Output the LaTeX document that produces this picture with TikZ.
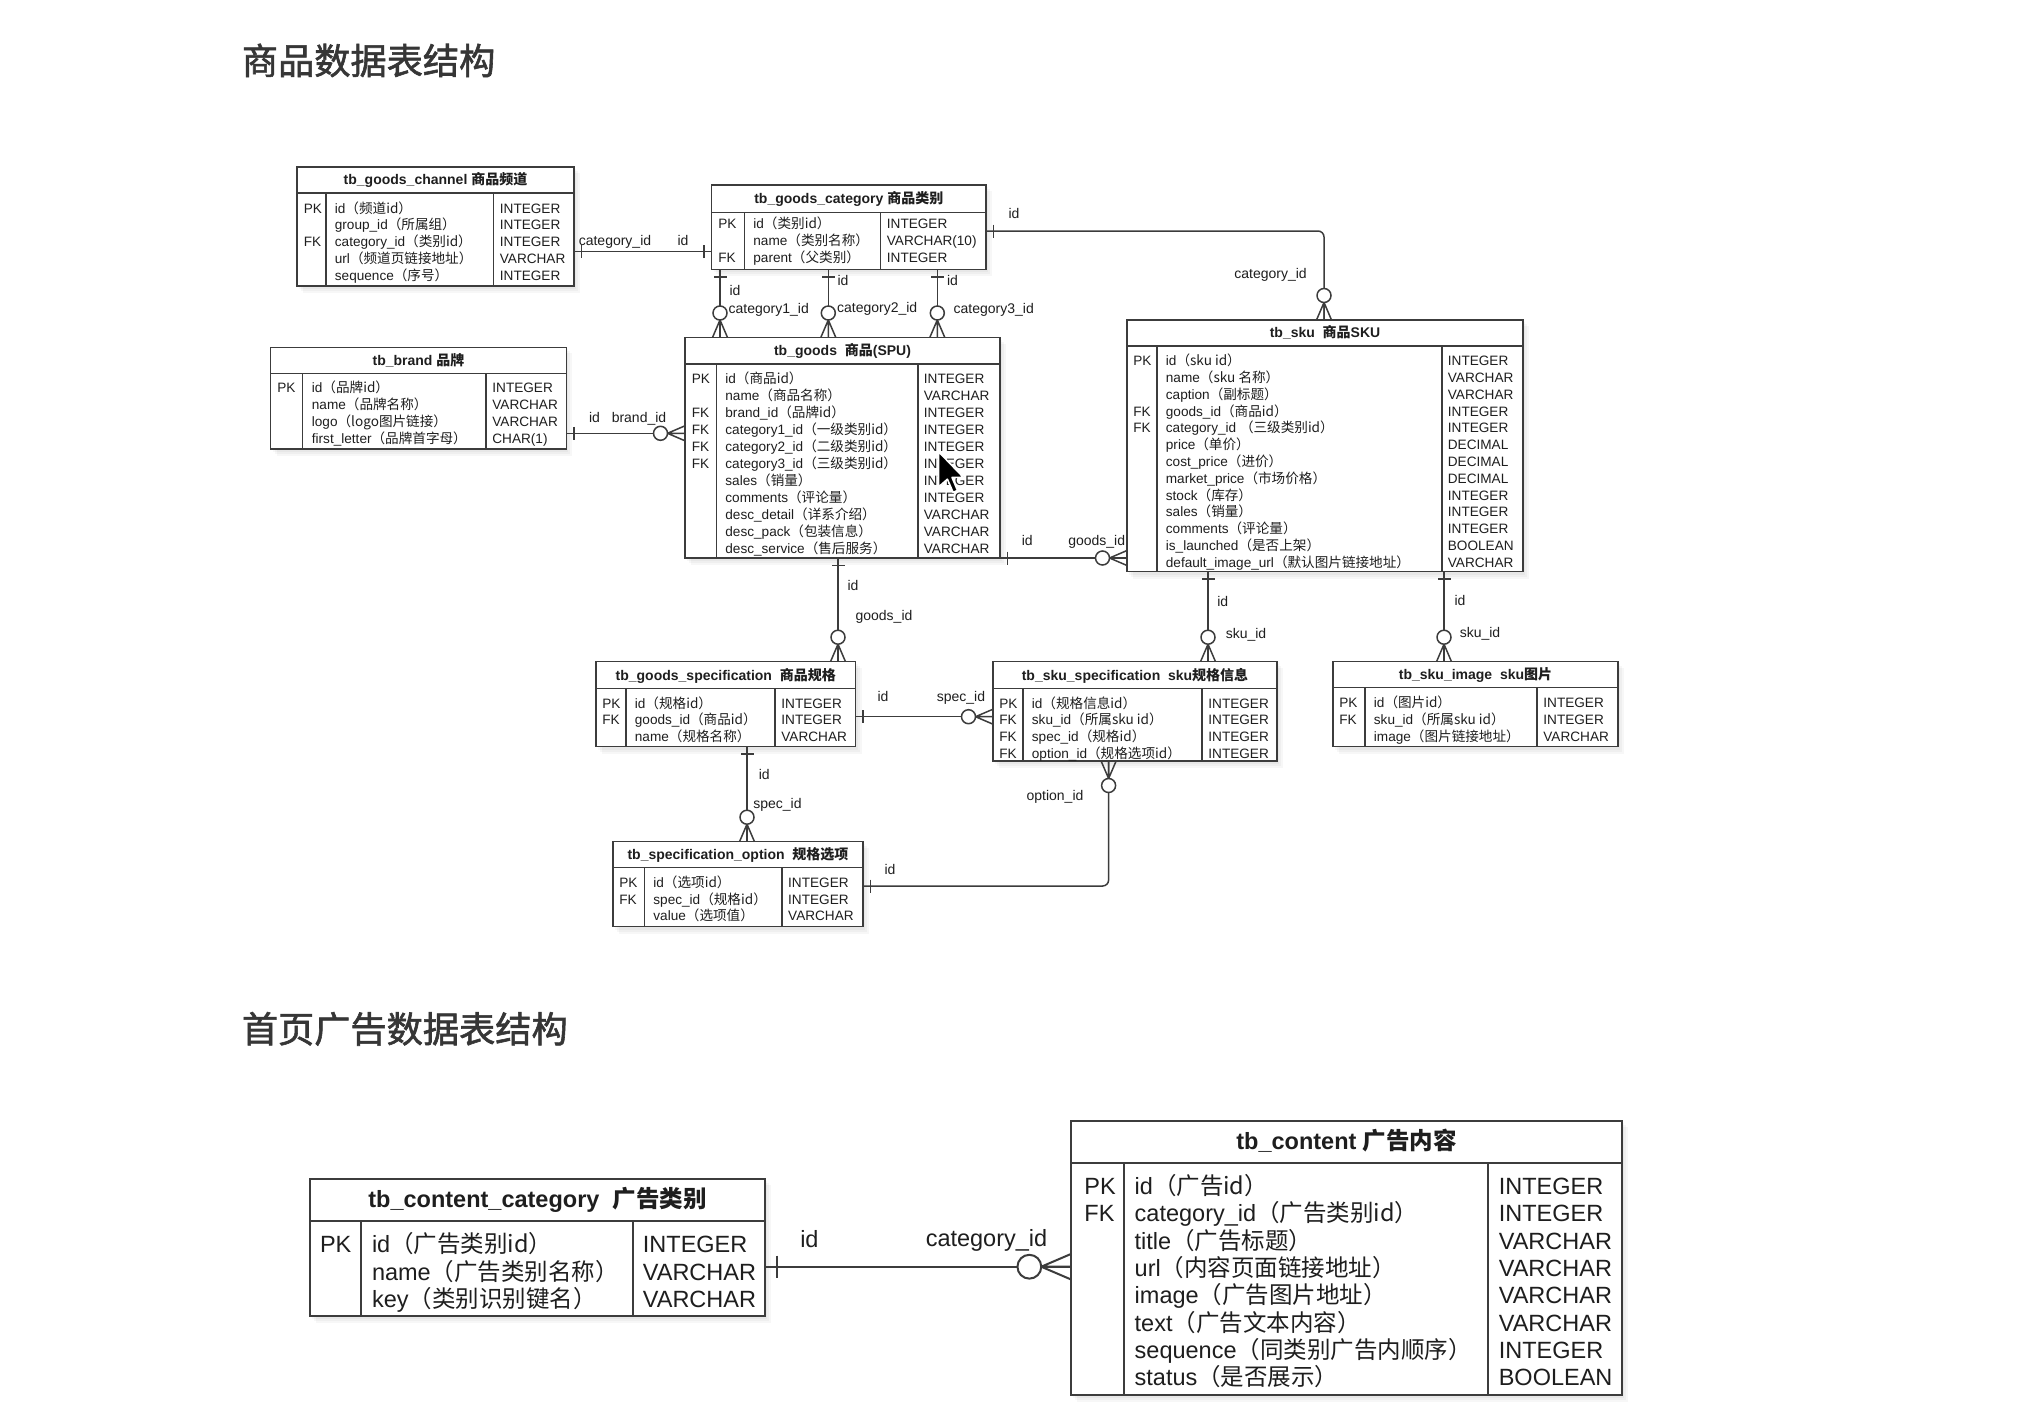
\documentclass[tikz,border=0pt]{standalone}
\usepackage{fontspec}
\setmainfont{Liberation Sans}
\newfontfamily\cjk{Noto Sans CJK SC}
\newfontfamily\cjkheavy[FakeBold=1.6]{Noto Sans CJK SC}
\usetikzlibrary{fit}

\newcommand\z[1]{{\cjk #1}}

\definecolor{ink}{HTML}{1E1E1E}
\definecolor{rulec}{HTML}{3C3C3C}
\definecolor{titlec}{HTML}{363636}

% table frame: #1 name, #2 left, #3 top, #4 right, #5 header rule y, #6 bottom,
% #7 key column rule x, #8 type column rule x, #9 title
\newcommand\ertable[9]{%
  \foreach \s in {2,4,6}{\fill[black, opacity=0.03] (#2+\s,#3+\s) rectangle (#4+\s,#6+\s+1);}
  \coordinate (#1-nw) at (#2,#3);
  \coordinate (#1-se) at (#4,#6);
  \node[tblbox, fit=(#1-nw)(#1-se)] (#1) {};
  \draw[tblrule] (#2,#5) -- (#4,#5) (#7,#5) -- (#7,#6) (#8,#5) -- (#8,#6);
  \node[tblhead] (#1-title) at ({(#2+#4)/2},{(#3+#5)/2+0.19*(#5-#3)}) {#9};
}
% table rows: #1 name, #2 key x, #3 field x, #4 type x, #5 first baseline, #6 row pitch,
% #7 list of key/field/type
\newcommand\errows[7]{%
  \foreach \rk/\rf/\rt [count=\i] in {#7}{%
    \node[tblcell] (#1-k\i) at (#2,{#5+(\i-1)*#6}) {\rk};
    \node[tblcell] (#1-f\i) at (#3,{#5+(\i-1)*#6}) {\rf};
    \node[tblcell] (#1-t\i) at (#4,{#5+(\i-1)*#6}) {\rt};
  }%
}
% cardinality marks; the local x axis leaves the table edge at #1 in direction #2, #3 = size
\newcommand\onemark[3]{%
  \begin{scope}[shift={(#1)}, rotate=#2, scale=#3]
    \draw[rel] (7.5,-6.5) -- (7.5,6.5);
  \end{scope}}
\newcommand\manymark[3]{%
  \begin{scope}[shift={(#1)}, rotate=#2, scale=#3]
    \draw[rel] (0,7.5) -- (17.5,0) -- (0,-7.5) (0,0) -- (17.5,0);
    \draw[rel, fill=white] (24.5,0) circle[radius=7];
  \end{scope}}

\tikzset{
  tblbox/.style={draw=rulec, line width=0.75pt, fill=white, inner sep=0pt, outer sep=0pt},
  tblrule/.style={draw=rulec, line width=0.75pt},
  tblhead/.style={anchor=base, inner sep=0pt, text=ink, font=\fontsize{7}{8}\selectfont\bfseries},
  tblcell/.style={anchor=base west, inner sep=0pt, text=ink, font=\fontsize{6.8}{8}\selectfont},
  rel/.style={draw=rulec, line width=0.75pt},
  lbl/.style={anchor=base, inner sep=0pt, text=ink, font=\fontsize{7}{8}\selectfont},
  lblw/.style={lbl, anchor=base west},
  pagetitle/.style={anchor=base west, inner sep=0pt, text=titlec, font=\cjkheavy\fontsize{18.1}{20}\selectfont},
}

\begin{document}
\begin{tikzpicture}[x=0.5pt, y=-0.5pt]
\useasboundingbox (0,0) rectangle (2034,1414);
\fill[white] (0,0) rectangle (2034,1414);

\node[pagetitle] (title1) at (241.5,74.2) {商品数据表结构};
\node[pagetitle] (title2) at (241.5,1042.5) {首页广告数据表结构};

% ---------------- goods tables ----------------
\ertable{ch}{297}{167}{574}{193}{286}{326}{493.5}{tb\_goods\_channel \z{商品频道}}
\errows{ch}{303.5}{334.5}{499.5}{213.2}{16.75}{
  PK/id\z{（频道id）}/INTEGER,
  {}/group\_id\z{（所属组）}/INTEGER,
  FK/category\_id\z{（类别id）}/INTEGER,
  {}/url\z{（频道页链接地址）}/VARCHAR,
  {}/sequence\z{（序号）}/INTEGER}

\ertable{cat}{711.6}{185}{986}{212.3}{269.3}{744.6}{880.5}{tb\_goods\_category \z{商品类别}}
\errows{cat}{718}{753}{886.5}{228.9}{16.85}{
  PK/id\z{（类别id）}/INTEGER,
  {}/name\z{（类别名称）}/VARCHAR(10),
  FK/parent\z{（父类别）}/INTEGER}

\ertable{br}{270.7}{347.3}{566.3}{373.3}{449}{302.7}{486}{tb\_brand \z{品牌}}
\errows{br}{277}{311.5}{492}{392.6}{16.9}{
  PK/id\z{（品牌id）}/INTEGER,
  {}/name\z{（品牌名称）}/VARCHAR,
  {}/logo\z{（logo图片链接）}/VARCHAR,
  {}/first\_letter\z{（品牌首字母）}/CHAR(1)}

\ertable{gd}{685}{337.5}{1000}{364}{558}{716.6}{917.8}{tb\_goods\ \ \z{商品}(SPU)}
\errows{gd}{691.5}{725}{923.5}{383.9}{16.93}{
  PK/id\z{（商品id）}/INTEGER,
  {}/name\z{（商品名称）}/VARCHAR,
  FK/brand\_id\z{（品牌id）}/INTEGER,
  FK/category1\_id\z{（一级类别id）}/INTEGER,
  FK/category2\_id\z{（二级类别id）}/INTEGER,
  FK/category3\_id\z{（三级类别id）}/INTEGER,
  {}/sales\z{（销量）}/INTEGER,
  {}/comments\z{（评论量）}/INTEGER,
  {}/desc\_detail\z{（详系介绍）}/VARCHAR,
  {}/desc\_pack\z{（包装信息）}/VARCHAR,
  {}/desc\_service\z{（售后服务）}/VARCHAR}

\ertable{sku}{1127}{320}{1523}{346}{571.7}{1157}{1442}{tb\_sku\ \ \z{商品}SKU}
\errows{sku}{1133}{1165.5}{1447.5}{365.6}{16.8}{
  PK/id\z{（sku id）}/INTEGER,
  {}/name\z{（sku 名称）}/VARCHAR,
  {}/caption\z{（副标题）}/VARCHAR,
  FK/goods\_id\z{（商品id）}/INTEGER,
  FK/category\_id \z{（三级类别id）}/INTEGER,
  {}/price\z{（单价）}/DECIMAL,
  {}/cost\_price\z{（进价）}/DECIMAL,
  {}/market\_price\z{（市场价格）}/DECIMAL,
  {}/stock\z{（库存）}/INTEGER,
  {}/sales\z{（销量）}/INTEGER,
  {}/comments\z{（评论量）}/INTEGER,
  {}/is\_launched\z{（是否上架）}/BOOLEAN,
  {}/default\_image\_url\z{（默认图片链接地址）}/VARCHAR}

\ertable{gs}{596}{661.7}{855.5}{688.3}{746.7}{626}{775}{tb\_goods\_specification\ \ \z{商品规格}}
\errows{gs}{602}{634.5}{781}{708.2}{16.7}{
  PK/id\z{（规格id）}/INTEGER,
  FK/goods\_id\z{（商品id）}/INTEGER,
  {}/name\z{（规格名称）}/VARCHAR}

\ertable{ss}{993}{661.7}{1277}{688.3}{761}{1023}{1202}{tb\_sku\_specification\ \ sku\z{规格信息}}
\errows{ss}{999}{1031.5}{1208}{708.2}{16.7}{
  PK/id\z{（规格信息id）}/INTEGER,
  FK/sku\_id\z{（所属sku id）}/INTEGER,
  FK/spec\_id\z{（规格id）}/INTEGER,
  FK/option\_id\z{（规格选项id）}/INTEGER}

\ertable{si}{1333}{661.7}{1618}{687.3}{746.7}{1365}{1537}{tb\_sku\_image\ \ sku\z{图片}}
\errows{si}{1339}{1373.5}{1543}{707.6}{16.7}{
  PK/id\z{（图片id）}/INTEGER,
  FK/sku\_id\z{（所属sku id）}/INTEGER,
  {}/image\z{（图片链接地址）}/VARCHAR}

\ertable{so}{613}{841.7}{863}{867.3}{926.7}{644.3}{781.8}{tb\_specification\_option\ \ \z{规格选项}}
\errows{so}{619}{653}{787.8}{887.6}{16.5}{
  PK/id\z{（选项id）}/INTEGER,
  FK/spec\_id\z{（规格id）}/INTEGER,
  {}/value\z{（选项值）}/VARCHAR}

% ---------------- goods relations ----------------
% channel -- category
\coordinate (r1a) at (ch.east |- 0,251.7);
\coordinate (r1b) at (cat.west |- 0,251.7);
\draw[rel] (r1a) -- (r1b);
\onemark{r1a}{0}{1} \onemark{r1b}{180}{1}
\node[lblw] (r1l1) at (578.4,245) {category\_id};
\node[lbl] (r1l2) at (683,245) {id};

% category -- sku
\coordinate (r2a) at (cat.east |- 0,231);
\coordinate (r2b) at (sku.north -| 1324,0);
\draw[rel, rounded corners=3pt] (r2a) -| (r2b);
\onemark{r2a}{0}{1} \manymark{r2b}{90}{1}
\node[lbl] (r2l1) at (1014,218) {id};
\node[lbl] (r2l2) at (1270.5,278.3) {category\_id};

% category -- goods (three levels)
\foreach \cx/\n in {720/1, 828.3/2, 937.3/3}{
  \coordinate (r3a\n) at (cat.south -| \cx,0);
  \coordinate (r3b\n) at (gd.north -| \cx,0);
  \draw[rel] (r3a\n) -- (r3b\n);
  \onemark{r3a\n}{-90}{1} \manymark{r3b\n}{90}{1}
}
\node[lbl] (r3i1) at (735,295) {id};
\node[lbl] (r3i2) at (843,285) {id};
\node[lbl] (r3i3) at (952.5,285) {id};
\node[lblw] (r3c1) at (728.3,313.3) {category1\_id};
\node[lblw] (r3c2) at (836.7,312.7) {category2\_id};
\node[lblw] (r3c3) at (953.3,313.3) {category3\_id};

% brand -- goods
\coordinate (r4a) at (br.east |- 0,433.3);
\coordinate (r4b) at (gd.west |- 0,433.3);
\draw[rel] (r4a) -- (r4b);
\onemark{r4a}{0}{1} \manymark{r4b}{180}{1}
\node[lbl] (r4l1) at (594.5,422) {id};
\node[lbl] (r4l2) at (639,422) {brand\_id};

% goods -- sku
\coordinate (r5a) at (gd.south east);
\coordinate (r5b) at (sku.west |- gd.south east);
\draw[rel] (r5a) -- (r5b);
\onemark{r5a}{0}{1} \manymark{r5b}{180}{1}
\node[lbl] (r5l1) at (1027.3,545) {id};
\node[lbl] (r5l2) at (1096.7,545.7) {goods\_id};

% goods -- goods specification
\coordinate (r6a) at (gd.south -| 838,0);
\coordinate (r6b) at (gs.north -| 838,0);
\draw[rel] (r6a) -- (r6b);
\onemark{r6a}{-90}{1} \manymark{r6b}{90}{1}
\node[lbl] (r6l1) at (853,590) {id};
\node[lbl] (r6l2) at (884,620) {goods\_id};

% goods specification -- sku specification
\coordinate (r7a) at (gs.east |- 0,716.7);
\coordinate (r7b) at (ss.west |- 0,716.7);
\draw[rel] (r7a) -- (r7b);
\onemark{r7a}{0}{1} \manymark{r7b}{180}{1}
\node[lbl] (r7l1) at (883,701.7) {id};
\node[lbl] (r7l2) at (961,701.7) {spec\_id};

% sku -- sku specification
\coordinate (r8a) at (sku.south -| 1208,0);
\coordinate (r8b) at (ss.north -| 1208,0);
\draw[rel] (r8a) -- (r8b);
\onemark{r8a}{-90}{1} \manymark{r8b}{90}{1}
\node[lbl] (r8l1) at (1222.8,606.7) {id};
\node[lbl] (r8l2) at (1246,638.3) {sku\_id};

% sku -- sku image
\coordinate (r9a) at (sku.south -| 1444,0);
\coordinate (r9b) at (si.north -| 1444,0);
\draw[rel] (r9a) -- (r9b);
\onemark{r9a}{-90}{1} \manymark{r9b}{90}{1}
\node[lbl] (r9l1) at (1460,605.7) {id};
\node[lbl] (r9l2) at (1480,637.7) {sku\_id};

% goods specification -- specification option
\coordinate (r10a) at (gs.south -| 747,0);
\coordinate (r10b) at (so.north -| 747,0);
\draw[rel] (r10a) -- (r10b);
\onemark{r10a}{-90}{1} \manymark{r10b}{90}{1}
\node[lbl] (r10l1) at (764.3,779) {id};
\node[lbl] (r10l2) at (777.5,808.3) {spec\_id};

% specification option -- sku specification
\coordinate (r11a) at (so.east |- 0,886);
\coordinate (r11b) at (ss.south -| 1108.6,0);
\draw[rel, rounded corners=3pt] (r11a) -| (r11b);
\onemark{r11a}{0}{1} \manymark{r11b}{-90}{1}
\node[lbl] (r11l1) at (890,874) {id};
\node[lbl] (r11l2) at (1055,800) {option\_id};

% ---------------- advertising tables ----------------
\begin{scope}[
  tblbox/.style={draw=rulec, line width=1pt, fill=white, inner sep=0pt, outer sep=0pt},
  tblrule/.style={draw=rulec, line width=1pt},
  tblhead/.style={anchor=base, inner sep=0pt, text=ink, font=\fontsize{11.75}{13}\selectfont\bfseries},
  tblcell/.style={anchor=base west, inner sep=0pt, text=ink, font=\fontsize{11.75}{13}\selectfont},
  rel/.style={draw=rulec, line width=1pt},
  lbl/.style={anchor=base, inner sep=0pt, text=ink, font=\fontsize{11.75}{13}\selectfont}]

\ertable{cc}{310.4}{1179.3}{764.5}{1220.7}{1316}{361.4}{633}{tb\_content\_category\ \ \z{广告类别}}
\errows{cc}{319.6}{371.6}{642.5}{1252.5}{27.65}{
  PK/id\z{（广告类别id）}/INTEGER,
  {}/name\z{（广告类别名称）}/VARCHAR,
  {}/key\z{（类别识别键名）}/VARCHAR}

\ertable{ct}{1071}{1120.7}{1622.3}{1162.7}{1395}{1123.6}{1488}{tb\_content \z{广告内容}}
\errows{ct}{1084}{1134.3}{1498.4}{1194.5}{27.33}{
  PK/id\z{（广告id）}/INTEGER,
  FK/category\_id\z{（广告类别id）}/INTEGER,
  {}/title\z{（广告标题）}/VARCHAR,
  {}/url\z{（内容页面链接地址）}/VARCHAR,
  {}/image\z{（广告图片地址）}/VARCHAR,
  {}/text\z{（广告文本内容）}/VARCHAR,
  {}/sequence\z{（同类别广告内顺序）}/INTEGER,
  {}/status\z{（是否展示）}/BOOLEAN}

\coordinate (r12a) at (cc.east |- 0,1266.7);
\coordinate (r12b) at (ct.west |- 0,1266.7);
\draw[rel] (r12a) -- (r12b);
\onemark{r12a}{0}{1.7} \manymark{r12b}{180}{1.7}
\node[lbl] (r12l1) at (809.4,1247.8) {id};
\node[lbl] (r12l2) at (986.5,1246.8) {category\_id};
\end{scope}

% mouse pointer
\begin{scope}[shift={(938.6,451.7)}, scale=2.2]
  \fill[black, draw=white, line width=0.8pt, line join=round]
    (0,0) -- (0,16) -- (4,12.5) -- (6.6,18.5) -- (8.6,17.6) -- (6.1,11.7) -- (11.3,11.7) -- cycle;
\end{scope}
\end{tikzpicture}
\end{document}
